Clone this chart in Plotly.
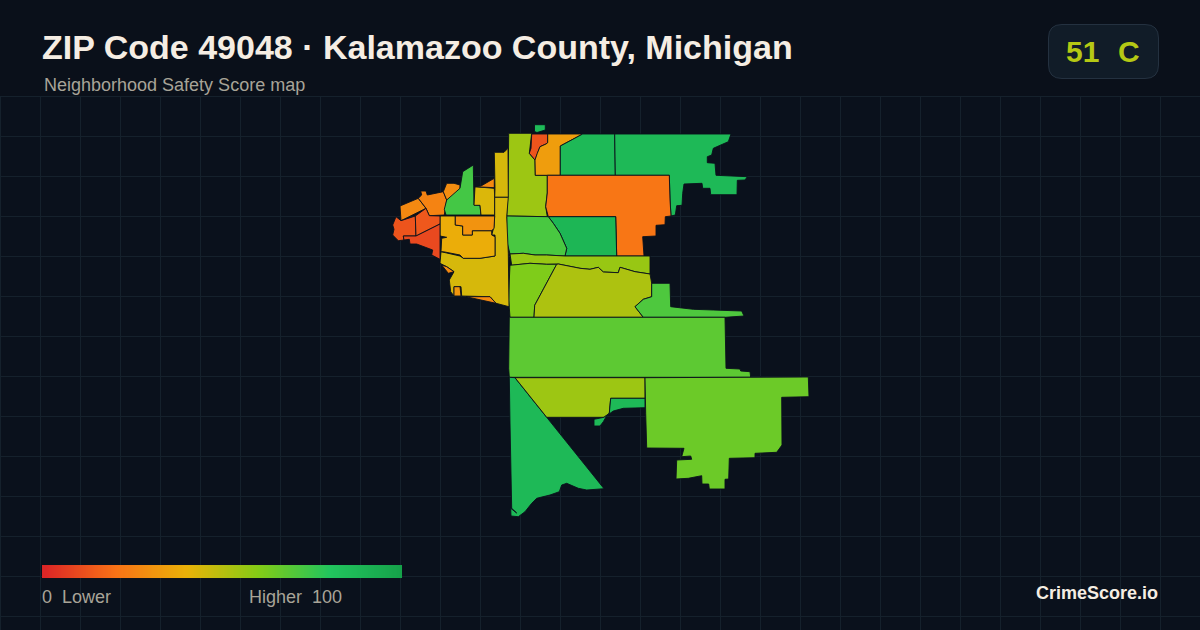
import plotly.graph_objects as go
from plotly.colors import sample_colorscale

TITLE = "ZIP Code 49048 · Kalamazoo County, Michigan"
SUBTITLE = "Neighborhood Safety Score map"
OVERALL_SCORE = "51"
OVERALL_GRADE = "C"
LEGEND_LEFT = "0\u00a0\u00a0Lower"
LEGEND_RIGHT = "Higher\u00a0\u00a0100"
BRAND = "CrimeScore.io"

SCALE_STOPS = [0, 20, 40, 60, 80, 100]
SCALE_COLORS = ["#dc2626", "#f97316", "#eab308", "#84cc16", "#22c55e", "#16a34a"]
LEGEND_VALUES = list(range(0, 101))
GRID_X = list(range(0, 1201, 40))
GRID_Y = list(range(96, 617, 40))

# Neighbourhood scores and outlines.
region_scores = [
    86, 55, 12, 33, 87, 87, 21, 89, 72, 56, 61, 52, 71, 68, 87, 55, 87, 65,
    27, 25, 28, 73, 43, 27, 44, 44, 38, 30, 31, 27, 27, 12, 13, 9,
]
region_outlines = [
    [(534.5,124.7),(545.3,124.7),(545.3,130),(537,132.5),(534.5,131.5)],
    [(508.7,133.3),(531.7,133.3),(529.3,153.3),(535,160),(535.3,175.3),(547.3,175.3),(547.3,193),(545.7,206.7),(547.3,216.7),(506.7,216),(508,193),(508.3,146.7)],
    [(531.7,134),(547.7,134),(547.7,142.7),(546,144),(540,146.7),(537.3,153.3),(535,160),(529.3,153.3),(531,148.3)],
    [(547.7,134),(582.7,134),(560.3,146),(560.3,175.3),(535.3,175.3),(535,160),(537.3,153.3),(540,146.7),(546,144),(547.7,142.7)],
    [(582.7,134),(614.7,134),(615.3,175.3),(560.3,175.3),(560.3,146)],
    [(614.7,134),(731,134),(728.3,141.7),(720,145),(713.3,148.3),(711.7,155),(707.3,156.7),(707.3,162.7),(715,163.3),(716,175.3),(747.3,176.7),(745,180),(737.3,180.3),(737,194.7),(710.7,194.7),(710,188.3),(702.7,188.3),(702,183.3),(684,184),(682.7,193.3),(682,205.3),(676.7,205.7),(675.3,215),(671,216),(670,200),(669.3,175.3),(615.3,175.3)],
    [(547.3,175.3),(669.3,175.3),(670,200),(671,216),(665.3,216.7),(665,224.7),(656,225.3),(656,236),(642.7,236.7),(644,256),(616.7,256),(615.7,216.7),(548.3,216.7),(545.7,206.7),(547.3,193)],
    [(548.3,216.7),(615.7,216.7),(616.7,256),(565,256),(566.7,248.3),(560,233.3),(553.3,223.3)],
    [(506.7,216),(548.3,216.7),(553.3,223.3),(560,233.3),(566.7,248.3),(565,256),(546.7,255),(535,255),(523.3,253.3),(510,254),(507.3,243.3),(506.7,233.3)],
    [(510,254),(523.3,253.3),(535,255),(546.7,255),(565,256),(650,256),(650,274),(635,271.7),(620,267.3),(618.3,272.7),(603.3,272),(598.3,267.3),(590,269.3),(580,268.3),(558.3,264),(546.7,264.3),(530,263.3),(511.7,265.3)],
    [(510,265.3),(530,263.3),(546.7,264.3),(556.7,264.3),(534.7,305.3),(534,317.3),(510,317.3),(508.7,300),(509.3,280)],
    [(558.3,264),(580,268.3),(590,269.3),(598.3,267.3),(603.3,272),(618.3,272.7),(620,267.3),(635,271.7),(650,274),(651.7,283.3),(651.7,296.7),(643.3,299.3),(635,306.7),(643.3,317.3),(534,317.3),(534.7,305.3),(556.7,264.3)],
    [(651.7,283.3),(670,283.3),(670.7,306.7),(693.3,309.3),(713.3,310),(741.7,311),(744,316),(725,317.3),(643.3,317.3),(635,306.7),(643.3,299.3),(651.7,296.7)],
    [(509.3,317.3),(725,317.3),(726,368.3),(740,369),(740.7,371),(750,371.7),(750.7,377.3),(509.3,377.3),(508.7,368.3),(509.3,340)],
    [(509.3,377.3),(515,377.7),(546.7,417.3),(604,488.7),(586.7,490),(578.3,488.3),(566.7,483.3),(561.7,485),(559.3,491.7),(550,495),(536.7,498.3),(531.7,503.3),(525,511.7),(518.3,516.7),(511,516),(510.7,508.3),(516.7,513),(511.7,508.3),(510,423)],
    [(515,377.7),(645,377.7),(645,398.3),(610.7,398.3),(609.3,413.3),(604,417.3),(546.7,417.3)],
    [(610.7,398.3),(645,398.3),(645,407.7),(623.3,408.3),(613.3,411),(606.7,415.7),(603.3,421.7),(600,426),(594,426),(594,419.3),(604,417.3),(609.3,413.3)],
    [(645,377.7),(808.3,377),(809,396.7),(781.7,397.3),(782,445),(776.7,452.3),(755,453.3),(755,457.7),(729.3,458.3),(728.7,479),(725,479.3),(725,489),(709.3,489),(708.7,484),(702,484),(701.7,475.7),(688.3,478.3),(676,479),(676.7,460),(691.7,459.3),(690.7,456),(681.7,456.7),(684,448.3),(646.7,448),(645.7,413.3)],
    [(400,206),(418.3,198.3),(426,208.3),(401,220.7)],
    [(418.3,198.3),(421.7,195),(420.7,191),(426,191),(427.3,195),(443.3,191.7),(446.7,200),(444.3,215),(429.3,215.7),(426,208.3)],
    [(443.3,191.7),(446.7,183.3),(454,183.3),(460,185),(460,188.3),(455,195),(446.7,200)],
    [(446.7,200),(460,188.3),(462.7,171.7),(471.7,166.7),(473.3,165),(474,205),(480,205.3),(481,215),(446,215),(444.3,209.3)],
    [(475,186.7),(494.3,188.3),(494.7,197.3),(494.7,215),(481,215),(480,205.3),(474,205.3)],
    [(481,186),(494.3,178.3),(494.3,187.7),(475,186.7)],
    [(494.3,152.3),(504,152.3),(508,148.3),(508.3,197.3),(494.7,197.3),(495,188.3)],
    [(494.7,197.3),(508.3,197.3),(506.7,216.7),(508.3,253.3),(509,306.7),(496,303.3),(490,296.7),(466,296.7),(461.7,296),(461,286.7),(454,286.7),(454,296),(450.7,291.7),(449.3,280),(454,271.7),(446.7,266.7),(440,263.3),(441,251.7),(460,256),(463.3,258.3),(480,258.3),(495,256),(495,235),(491.7,235),(494,226.7),(494.7,215)],
    [(440,216),(455.3,216),(455.3,225),(462.7,226),(462.7,235),(472.3,235),(472.3,230.7),(491.7,230.7),(491.7,235),(495,236.7),(495,256),(480,258.3),(463.3,258.3),(460,255),(443.3,251.7),(441,251.7),(441.7,238.3),(446.7,237.3),(440,236)],
    [(455.3,216),(494.7,216),(494,228.3),(491.7,230.7),(472.3,230.7),(472.3,235),(462.7,235),(462.7,226),(455.3,225)],
    [(454,286.7),(460,286.7),(461,296),(454,296)],
    [(466,296.7),(490,296.7),(496,303.3)],
    [(441.7,265),(446.7,266.7),(454,271.7),(448.3,273.3)],
    [(392.7,225),(396,216.7),(401,220.7),(415.3,216),(416,236),(403.3,236),(404,240),(398.3,240.7),(392.7,235),(394,229.3)],
    [(415.3,216),(426,208.3),(429.3,215.7),(440,216),(440,224),(416,236)],
    [(440,224),(440,259.3),(431.7,255),(432.7,250),(416.7,244),(410,244),(409.3,239.3),(404,240),(403.3,236),(416,236)],
]

BG = "#0a111c"
HEADER = "#0a101a"
GRID = "#15212c"
OUTLINE = "#0a111c"
FONT = "Liberation Sans"

colorscale = [[s / 100, c] for s, c in zip(SCALE_STOPS, SCALE_COLORS)]

fig = go.Figure()

for score, outline in zip(region_scores, region_outlines):
    xs = [p[0] for p in outline] + [outline[0][0]]
    ys = [p[1] for p in outline] + [outline[0][1]]
    fig.add_trace(go.Scatter(
        x=xs, y=ys, mode="lines", fill="toself",
        fillcolor=sample_colorscale(colorscale, score / 100)[0],
        line=dict(color=OUTLINE, width=0.9),
        hoverinfo="skip", showlegend=False,
    ))

fig.add_trace(go.Heatmap(
    z=[LEGEND_VALUES, LEGEND_VALUES, LEGEND_VALUES],
    x0=43.8, dx=3.564, y0=567.17, dy=4.33,
    colorscale=colorscale, zmin=0, zmax=100,
    showscale=False, hoverinfo="skip", zsmooth="best",
))

def note(x, y, text, size, color, bold=False, anchor="left"):
    fig.add_annotation(
        x=x, y=y, xref="x", yref="y", text=f"<b>{text}</b>" if bold else text,
        showarrow=False, xanchor=anchor, yanchor="middle",
        font=dict(family=FONT, size=size, color=color),
    )

note(40, 47, TITLE, 34, "#f5ede3", bold=True)
note(42, 85, SUBTITLE, 18, "#a8a498")
note(1064, 51, OVERALL_SCORE, 30, "#b5c814", bold=True)
note(1116, 51, OVERALL_GRADE, 30, "#b5c814", bold=True)
note(40, 597, LEGEND_LEFT, 18, "#a8a498")
note(247, 597, LEGEND_RIGHT, 18, "#a8a498")
note(1160, 593, BRAND, 18, "#f5ede3", bold=True, anchor="right")

shapes = [dict(type="rect", xref="x", yref="y", x0=0, x1=1200, y0=0, y1=96,
               fillcolor=HEADER, line=dict(width=0), layer="below")]
for gx in GRID_X:
    shapes.append(dict(type="line", xref="x", yref="y", x0=gx + 0.5, x1=gx + 0.5, y0=96, y1=630,
                       line=dict(color=GRID, width=1), layer="below"))
for gy in GRID_Y:
    shapes.append(dict(type="line", xref="x", yref="y", x0=0, x1=1200, y0=gy + 0.5, y1=gy + 0.5,
                       line=dict(color=GRID, width=1), layer="below"))
shapes.append(dict(type="path", xref="x", yref="y", layer="above",
    path="M1062,24.5 H1145 Q1158.5,24.5 1158.5,38 V65 Q1158.5,78.5 1145,78.5 H1062 Q1048.5,78.5 1048.5,65 V38 Q1048.5,24.5 1062,24.5 Z",
    fillcolor="#111c28", line=dict(color="#243140", width=1)))

fig.update_layout(
    width=1200, height=630, margin=dict(l=0, r=0, t=0, b=0),
    paper_bgcolor=BG, plot_bgcolor=BG, shapes=shapes,
    xaxis=dict(range=[0, 1200], showgrid=False, zeroline=False, showticklabels=False,
               ticks="", fixedrange=True),
    yaxis=dict(range=[630, 0], showgrid=False, zeroline=False, showticklabels=False,
               ticks="", fixedrange=True),
)
fig.write_html("out.html", config=dict(displayModeBar=False, staticPlot=True),
               post_script="document.body.style.margin='0';document.body.style.background='#0a111c';")
